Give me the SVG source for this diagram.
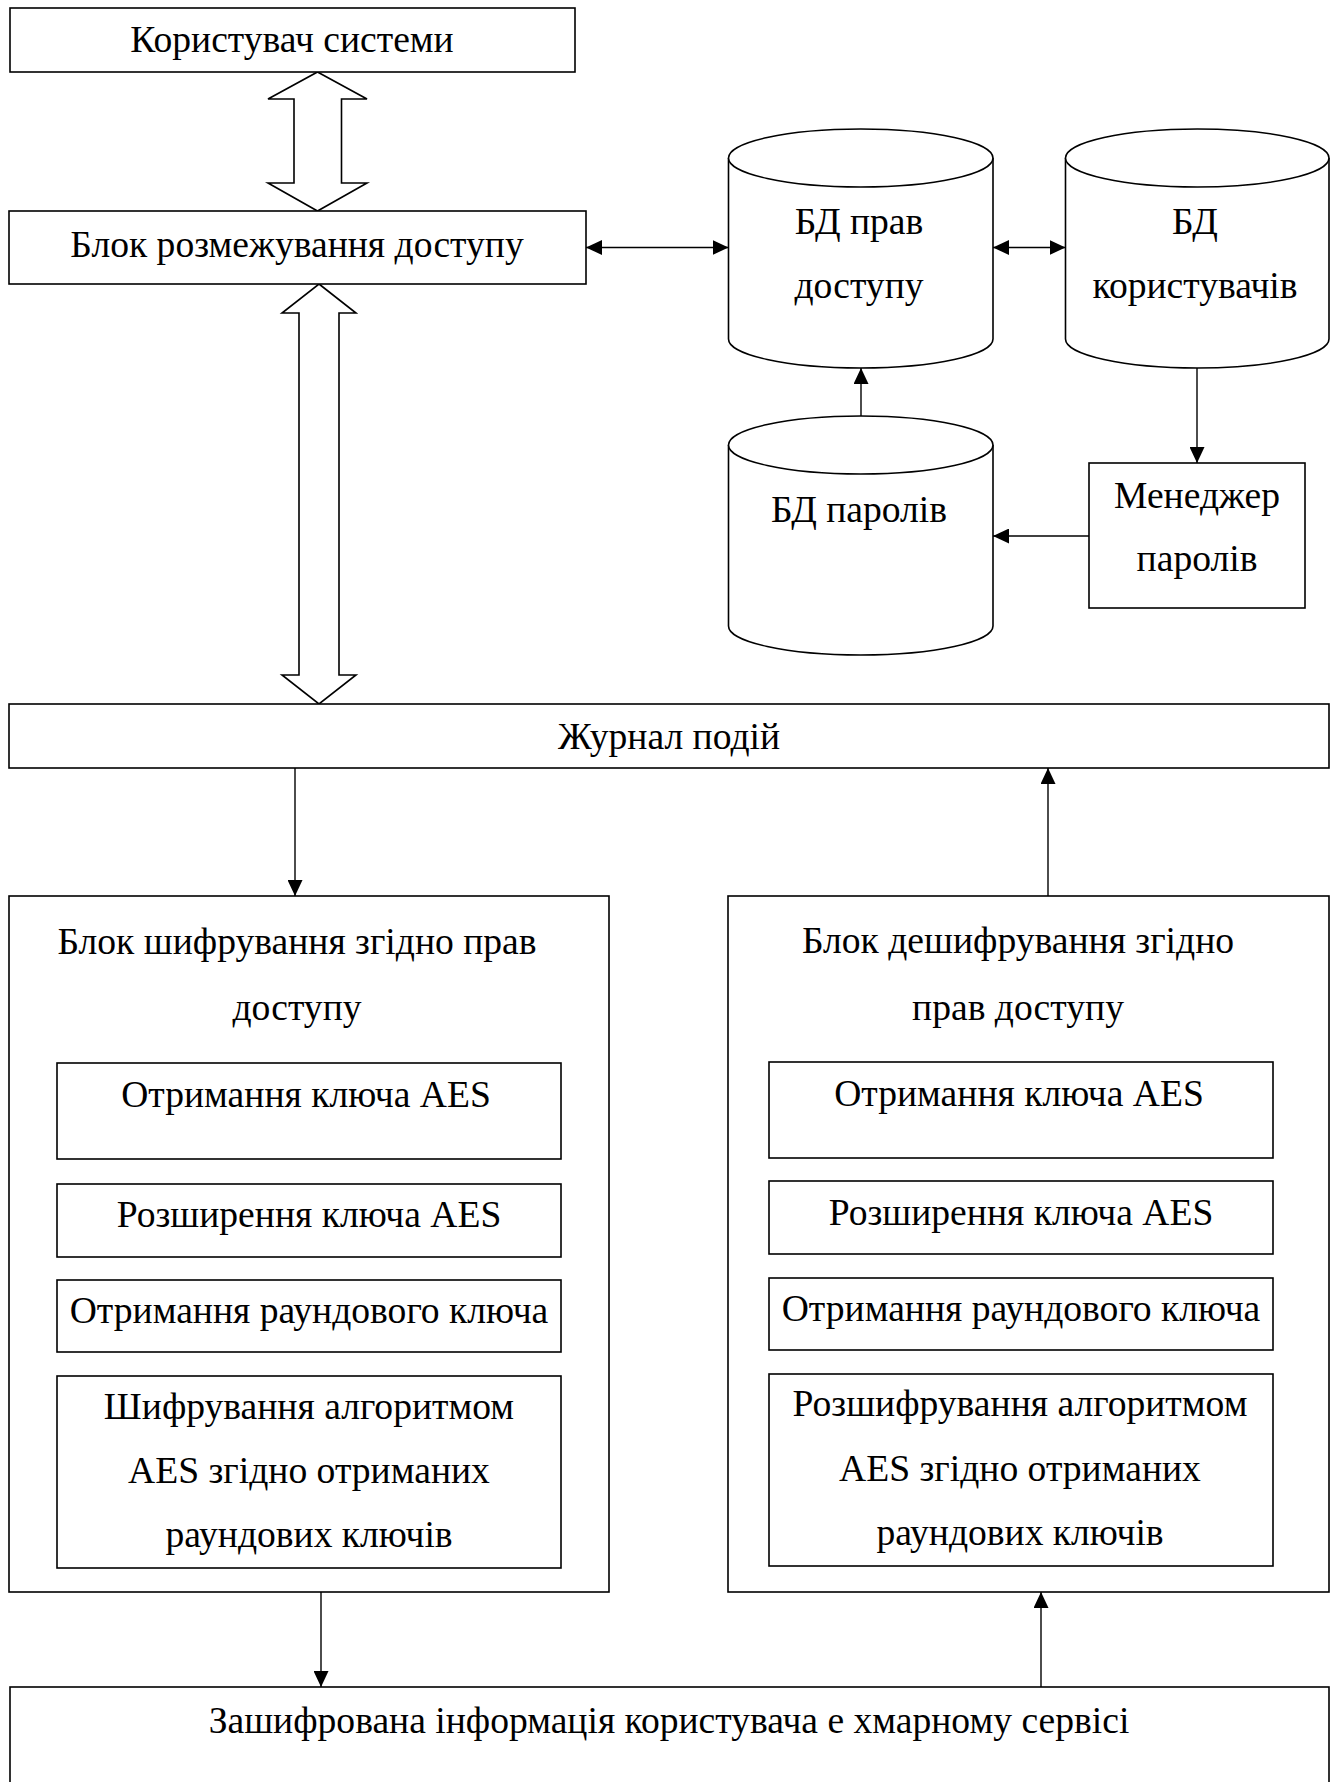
<svg xmlns="http://www.w3.org/2000/svg" width="1343" height="1782" viewBox="0 0 1343 1782">
  <style>
    .box { fill: #fff; stroke: #000; stroke-width: 1.6; }
    .db { fill: #fff; stroke: #000; stroke-width: 1.6; }
    .fat { fill: #fff; stroke: #000; stroke-width: 1.6; stroke-linejoin: miter; }
    .wire { fill: none; stroke: #000; stroke-width: 1.4; }
    text { font-family: "Liberation Serif", "Times New Roman", serif; font-size: 37.6px; fill: #000; text-anchor: middle; }
  </style>
  <defs>
    <marker id="head" viewBox="0 0 16 15" refX="16" refY="7.5" markerWidth="16" markerHeight="15" markerUnits="userSpaceOnUse" orient="auto-start-reverse">
      <path d="M0,0 L16,7.5 L0,15 z" fill="#000"/>
    </marker>
  </defs>

  <rect width="1343" height="1782" fill="#fff"/>

  <!-- connectors -->
  <g id="connectors">
    <!-- wide two-way arrows -->
    <path class="fat" d="M317.5,72 L367,99 L341.5,99 L341.5,183 L367,183 L317.5,211 L268,183 L294,183 L294,99 L268,99 Z"/>
    <path class="fat" d="M319,284 L356,313 L339,313 L339,675 L356,675 L319,704 L282,675 L299,675 L299,313 L282,313 Z"/>
    <!-- access block <-> rights DB -->
    <line class="wire" x1="586" y1="247.5" x2="728.5" y2="247.5" marker-start="url(#head)" marker-end="url(#head)"/>
    <!-- rights DB <-> users DB -->
    <line class="wire" x1="993" y1="247.5" x2="1065.5" y2="247.5" marker-start="url(#head)" marker-end="url(#head)"/>
    <!-- passwords DB -> rights DB -->
    <line class="wire" x1="861" y1="416" x2="861" y2="368" marker-end="url(#head)"/>
    <!-- users DB -> password manager -->
    <line class="wire" x1="1197" y1="368" x2="1197" y2="463" marker-end="url(#head)"/>
    <!-- password manager -> passwords DB -->
    <line class="wire" x1="1089" y1="536" x2="993" y2="536" marker-end="url(#head)"/>
    <!-- event log -> encryption block -->
    <line class="wire" x1="295" y1="768" x2="295" y2="896" marker-end="url(#head)"/>
    <!-- decryption block -> event log -->
    <line class="wire" x1="1048" y1="896" x2="1048" y2="768" marker-end="url(#head)"/>
    <!-- encryption block -> cloud storage -->
    <line class="wire" x1="321" y1="1592" x2="321" y2="1687" marker-end="url(#head)"/>
    <!-- cloud storage -> decryption block -->
    <line class="wire" x1="1041" y1="1687" x2="1041" y2="1592" marker-end="url(#head)"/>
  </g>

  <g id="user">
    <rect class="box" x="10" y="8" width="565" height="64"/>
    <text x="292" y="52">Користувач системи</text>
  </g>

  <g id="access-control">
    <rect class="box" x="9" y="211" width="577" height="73"/>
    <text x="297" y="257">Блок розмежування доступу</text>
  </g>

  <g id="db-rights">
    <path class="db" d="M728.5,158 A132.25,29 0 0 1 993,158 L993,339 A132.25,29 0 0 1 728.5,339 Z"/>
    <path class="db" d="M728.5,158 A132.25,29 0 0 0 993,158"/>
    <text x="859" y="234">БД прав</text>
    <text x="859" y="298">доступу</text>
  </g>

  <g id="db-users">
    <path class="db" d="M1065.5,158 A131.75,29 0 0 1 1329,158 L1329,339 A131.75,29 0 0 1 1065.5,339 Z"/>
    <path class="db" d="M1065.5,158 A131.75,29 0 0 0 1329,158"/>
    <text x="1195" y="234">БД</text>
    <text x="1195" y="298">користувачів</text>
  </g>

  <g id="db-passwords">
    <path class="db" d="M728.5,445 A132.25,29 0 0 1 993,445 L993,626 A132.25,29 0 0 1 728.5,626 Z"/>
    <path class="db" d="M728.5,445 A132.25,29 0 0 0 993,445"/>
    <text x="859" y="522">БД паролів</text>
  </g>

  <g id="password-manager">
    <rect class="box" x="1089" y="463" width="216" height="145"/>
    <text x="1197" y="508">Менеджер</text>
    <text x="1197" y="571">паролів</text>
  </g>

  <g id="event-log">
    <rect class="box" x="9" y="704" width="1320" height="64"/>
    <text x="669" y="749">Журнал подій</text>
  </g>

  <g id="encryption">
    <rect class="box" x="9" y="896" width="600" height="696"/>
    <text x="297" y="954">Блок шифрування згідно прав</text>
    <text x="297" y="1020">доступу</text>
    <g id="enc-key">
      <rect class="box" x="57" y="1063" width="504" height="96"/>
      <text x="306" y="1107">Отримання ключа AES</text>
    </g>
    <g id="enc-expand">
      <rect class="box" x="57" y="1184" width="504" height="73"/>
      <text x="309" y="1227">Розширення ключа AES</text>
    </g>
    <g id="enc-round">
      <rect class="box" x="57" y="1280" width="504" height="72"/>
      <text x="309" y="1323">Отримання раундового ключа</text>
    </g>
    <g id="enc-aes">
      <rect class="box" x="57" y="1376" width="504" height="192"/>
      <text x="309" y="1419">Шифрування алгоритмом</text>
      <text x="309" y="1483">AES згідно отриманих</text>
      <text x="309" y="1547">раундових ключів</text>
    </g>
  </g>

  <g id="decryption">
    <rect class="box" x="728" y="896" width="601" height="696"/>
    <text x="1018" y="953">Блок дешифрування згідно</text>
    <text x="1018" y="1020">прав доступу</text>
    <g id="dec-key">
      <rect class="box" x="769" y="1062" width="504" height="96"/>
      <text x="1019" y="1106">Отримання ключа AES</text>
    </g>
    <g id="dec-expand">
      <rect class="box" x="769" y="1181" width="504" height="73"/>
      <text x="1021" y="1225">Розширення ключа AES</text>
    </g>
    <g id="dec-round">
      <rect class="box" x="769" y="1278" width="504" height="72"/>
      <text x="1021" y="1321">Отримання раундового ключа</text>
    </g>
    <g id="dec-aes">
      <rect class="box" x="769" y="1374" width="504" height="192"/>
      <text x="1020" y="1416">Розшифрування алгоритмом</text>
      <text x="1020" y="1481">AES згідно отриманих</text>
      <text x="1020" y="1545">раундових ключів</text>
    </g>
  </g>

  <g id="cloud-storage">
    <rect class="box" x="10" y="1687" width="1319" height="110"/>
    <text x="669" y="1733">Зашифрована інформація користувача е хмарному сервісі</text>
  </g>
</svg>
